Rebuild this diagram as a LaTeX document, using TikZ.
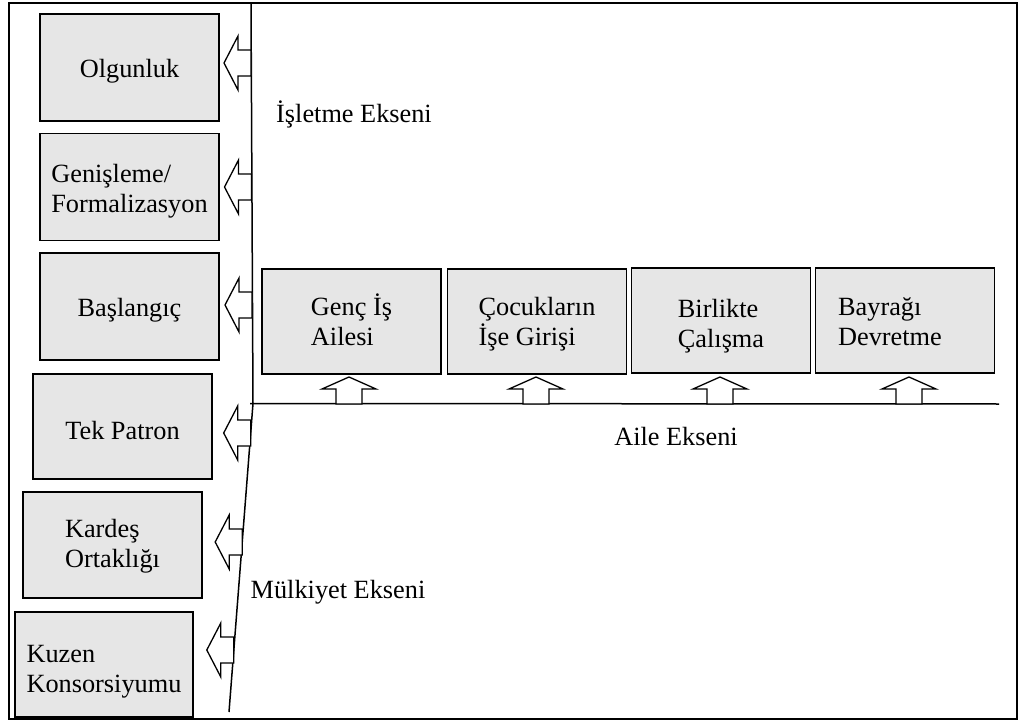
\documentclass[tikz,border=0pt]{standalone}
\usepackage{fontspec}
\setmainfont{Liberation Serif}
\newcommand{\ls}{\rule[-6pt]{0pt}{30pt}}
\newcommand{\fs}[1]{\rule[-6pt]{0pt}{#1pt}}
\begin{document}
\begin{tikzpicture}[x=1pt,y=-1pt,
  font=\fontsize{26.3}{30}\selectfont,
  box/.style={draw=black, line width=1.6pt, fill={rgb,255:red,230;green,230;blue,230},
    minimum width=179pt, minimum height=107pt, inner sep=0pt, align=left},
  axis/.style={draw=black, line width=1.5pt},
  arr/.style={draw=black, line width=1.3pt, fill=white, line join=miter},
  lbl/.style={inner sep=0pt, anchor=base},
  uparr/.pic={\draw[arr] (-13,0) -- (-13,-15) -- (-27,-15) -- (0,-27) -- (27,-15) -- (13,-15) -- (13,0) -- cycle;},
  leftarr/.pic={\draw[arr] (0,-13) -- (-13,-13) -- (-13,-27) -- (-27,0) -- (-13,27) -- (-13,13) -- (0,13) -- cycle;}
]
\useasboundingbox (0,0) rectangle (1020,722);
\draw[line width=1.6pt] (9,3) rectangle (1017,719);

% axes
\coordinate (vtop) at (251,3);
\coordinate (corner) at (253,403.5);
\coordinate (vbot) at (229,712);
\coordinate (hstart) at (250,403.5);
\coordinate (hend) at (999,404);
\draw[axis] (vtop) -- (corner) -- (vbot);
\draw[axis] (hstart) -- (hend);

% left boxes
\node[box] (olg) at (129.5,67.5) {\fs{32}Olgunluk};
\node[box] (gen) at (129.5,187) {\fs{34}Genişleme/\\\ls Formalizasyon};
\node[box] (bas) at (129.5,306.5) {\fs{32}Başlangıç};
\node[box, minimum height=105pt] (tek) at (122.5,426.5) {\fs{37}Tek Patron};
\node[box, minimum height=106pt] (kar) at (112.5,545) {\fs{26}Kardeş\\\ls Ortaklığı};
\node[box, minimum width=178pt, minimum height=105pt] (kuz) at (104,664.5) {\fs{37}Kuzen\\\ls Konsorsiyumu};

% top boxes
\node[box, minimum height=105pt] (genc) at (351.5,321.5) {\fs{30}Genç İş\\\ls Ailesi};
\node[box, minimum height=105pt] (coc) at (537,321.5) {\fs{30}Çocukların\\\ls İşe Girişi};
\node[box, minimum height=105pt] (bir) at (721,320.5) {\fs{35}Birlikte\\\ls Çalışma};
\node[box, minimum height=105pt] (bay) at (905,320.5) {};
\node[inner sep=0pt, align=left] (baytxt) at (890,319) {\fs{34}Bayrağı\\\ls Devretme};

% left arrows
\pic at (251,63) {leftarr};
\pic at (251.5,187) {leftarr};
\pic at (252,305) {leftarr};
\pic at (250.7,433) {leftarr};
\pic at (242.2,542) {leftarr};
\pic at (233.8,650) {leftarr};

% up arrows
\pic at (349,404) {uparr};
\pic at (536,404) {uparr};
\pic at (720,404) {uparr};
\pic at (909,404) {uparr};

% labels
\node[lbl] (isl) at (354,123) {İşletme Ekseni};
\node[lbl] (aile) at (676,445) {Aile Ekseni};
\node[lbl] (mulk) at (338,598) {Mülkiyet Ekseni};
\end{tikzpicture}
\end{document}
